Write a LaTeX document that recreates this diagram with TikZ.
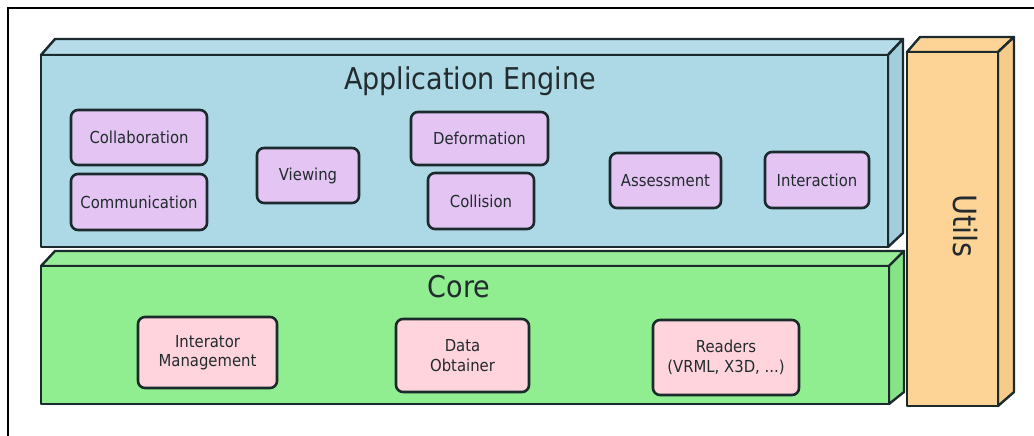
\documentclass[tikz,border=0pt]{standalone}
\usepackage{fontspec}
\setmainfont{DejaVu Sans}[FakeStretch=0.9]
\usetikzlibrary{positioning}
\definecolor{edgedark}{HTML}{1B2A2C}
\definecolor{appblue}{HTML}{ADD8E6}
\definecolor{appbluetop}{HTML}{B5DCE8}
\definecolor{appblueside}{HTML}{A2CEDC}
\definecolor{coregreen}{HTML}{90EE90}
\definecolor{coregreentop}{HTML}{98EE98}
\definecolor{coregreenside}{HTML}{86E486}
\definecolor{utilorange}{HTML}{FDD396}
\definecolor{utilorangeside}{HTML}{F7CB8A}
\definecolor{modpurple}{HTML}{E3C4F2}
\definecolor{corepink}{HTML}{FFD4DD}
\definecolor{textdark}{HTML}{222B2E}

\begin{document}
\begin{tikzpicture}[x=1pt,y=-1pt,
  face/.style={draw=edgedark, line width=2.4pt, line join=round},
  modbox/.style={draw=edgedark, fill=modpurple, line width=2.6pt, rounded corners=7pt,
    inner sep=0pt, text=textdark, font=\fontsize{16.5}{19.5}\selectfont, align=center},
  corebox/.style={modbox, fill=corepink},
  layertitle/.style={text=textdark, inner sep=0pt, anchor=base, font=\fontsize{30}{34}\selectfont}]
\useasboundingbox (0,0) rectangle (1034,436);
\draw[line width=1.8pt] (8,436) -- (8,8) -- (1034,8);

% application engine layer
\draw[face, fill=appbluetop] (41,55) -- (55,39) -- (903,39) -- (888,55) -- cycle;
\draw[face, fill=appblueside] (888,55) -- (903,39) -- (903,233) -- (888,247) -- cycle;
\draw[face, fill=appblue] (41,55) rectangle (888,247);
\node[layertitle] (apptitle) at (470,90) {Application Engine};

% core layer
\draw[face, fill=coregreentop] (41,266) -- (55,251) -- (904,251) -- (889,266) -- cycle;
\draw[face, fill=coregreenside] (889,266) -- (904,251) -- (904,392) -- (889,404) -- cycle;
\draw[face, fill=coregreen] (41,266) rectangle (889,404);
\node[layertitle, font=\fontsize{30}{34}\selectfont] (coretitle) at (459,297) {Core};

% utils column
\draw[face, fill=utilorange] (907,52) -- (920,37) -- (1014,37) -- (998,52) -- cycle;
\draw[face, fill=utilorangeside] (998,52) -- (1014,37) -- (1014,392) -- (998,406) -- cycle;
\draw[face, fill=utilorange] (907,52) rectangle (998,406);
\node[layertitle, rotate=-90, font=\fontsize{32}{36}\selectfont] (utiltitle) at (953,226) {Utils};

% engine modules
\node[modbox, minimum width=136pt, minimum height=55pt] (collab) at (139,137.5) {Collaboration};
\node[modbox, minimum width=136pt, minimum height=56pt] (comm) at (139,202) {Communication};
\node[modbox, minimum width=102pt, minimum height=55pt] (view) at (308,175.5) {Viewing};
\node[modbox, minimum width=137pt, minimum height=53pt] (deform) at (479.5,138.5) {Deformation};
\node[modbox, minimum width=106pt, minimum height=56pt] (collide) at (481,201) {Collision};
\node[modbox, minimum width=111pt, minimum height=55pt] (assess) at (665.5,180.5) {Assessment};
\node[modbox, minimum width=104pt, minimum height=56pt] (interact) at (817,180) {Interaction};

% core modules
\node[corebox, minimum width=139pt, minimum height=71pt] (itermgmt) at (207.5,352.5) {Interator\\Management};
\node[corebox, minimum width=133pt, minimum height=73pt] (obtainer) at (462.5,355.5) {Data\\Obtainer};
\node[corebox, minimum width=146pt, minimum height=75pt] (readers) at (726,357.5) {Readers\\(VRML, X3D, ...)};
\end{tikzpicture}
\end{document}
